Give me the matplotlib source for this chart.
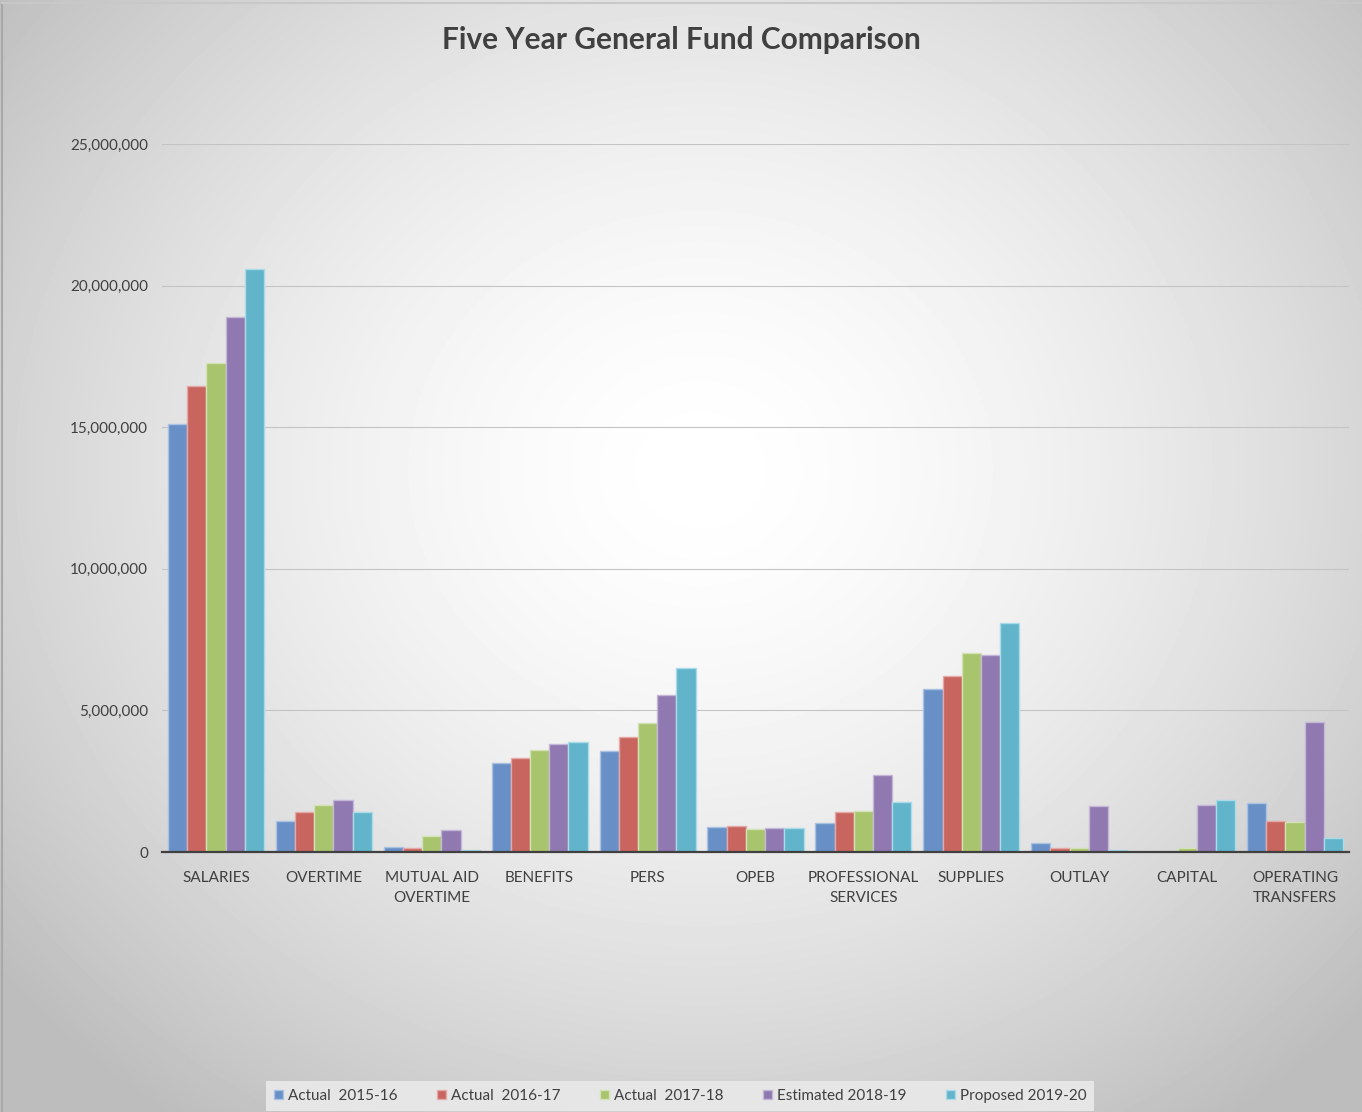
import numpy as np
import matplotlib.pyplot as plt

# categories and the five fiscal years
categories = ['SALARIES', 'OVERTIME', 'MUTUAL AID\nOVERTIME', 'BENEFITS', 'PERS', 'OPEB',
              'PROFESSIONAL\nSERVICES', 'SUPPLIES', 'OUTLAY', 'CAPITAL', 'OPERATING\nTRANSFERS']
series_names = ['Actual  2015-16', 'Actual  2016-17', 'Actual  2017-18',
                'Estimated 2018-19', 'Proposed 2019-20']
actual_2015 = [15110000, 1090000, 160000, 3140000, 3570000, 880000, 1020000, 5760000, 310000, 0, 1730000]
actual_2016 = [16450000, 1410000, 130000, 3320000, 4060000, 920000, 1410000, 6210000, 150000, 0, 1110000]
actual_2017 = [17270000, 1660000, 570000, 3600000, 4550000, 810000, 1450000, 7030000, 130000, 140000, 1070000]
estimated_2018 = [18890000, 1840000, 780000, 3810000, 5540000, 830000, 2720000, 6960000, 1610000, 1660000, 4590000]
proposed_2019 = [20590000, 1410000, 80000, 3880000, 6500000, 860000, 1780000, 8090000, 80000, 1820000, 490000]
yticks = [0, 5000000, 10000000, 15000000, 20000000, 25000000]

colors = ['#6890c6', '#c8655f', '#a8c46c', '#9079b0', '#62b4cb']
edges = ['#a9c1e2', '#e4a9a6', '#d2e2b4', '#c3b6d6', '#a9dbe8']

fig = plt.figure(figsize=(13.62, 11.12), dpi=100)

# radial grey background
bg = fig.add_axes([0, 0, 1, 1])
yy, xx = np.mgrid[0:1112, 0:1362]
r = np.sqrt(((xx - 700) / 900.0) ** 2 + ((yy - 470) / 800.0) ** 2)
shade = 1.0 - 0.26 * np.clip(r, 0, 1) ** 1.6
bg.imshow(shade, cmap='gray', vmin=0, vmax=1, aspect='auto', extent=[0, 1362, 1112, 0])
bg.plot([2, 2], [3, 1112], color='#a8a8a8', lw=1.5)
bg.plot([2, 1362], [3, 3], color='#c8c8c8', lw=1.5)
bg.set_xlim(0, 1362)
bg.set_ylim(1112, 0)
bg.axis('off')

ax = fig.add_axes([162 / 1362, 1 - 852 / 1112, 1187 / 1362, 708 / 1112])
ax.patch.set_alpha(0)

x = np.arange(len(categories))
width = 0.178
data = [actual_2015, actual_2016, actual_2017, estimated_2018, proposed_2019]
for i, vals in enumerate(data):
    ax.bar(x + (i - 2) * width, vals, width, color=colors[i], edgecolor=edges[i],
           linewidth=1, label=series_names[i], zorder=3)

ax.set_xlim(-0.5, len(categories) - 0.5)
ax.set_ylim(0, 25000000)
ax.set_yticks(yticks)
ax.set_yticklabels(['{:,}'.format(v) for v in yticks])
ax.set_xticks(x)
ax.set_xticklabels(categories, linespacing=1.5)
ax.tick_params(axis='both', length=0, labelsize=11, colors='#404040')
ax.tick_params(axis='x', pad=14)
ax.tick_params(axis='y', pad=10)
ax.grid(axis='y', color='#c4c4c4', lw=0.8, zorder=0)
for side in ['top', 'right', 'left']:
    ax.spines[side].set_visible(False)
ax.spines['bottom'].set_color('#404040')
ax.spines['bottom'].set_linewidth(1.6)
ax.spines['bottom'].set_zorder(4)
for lab in ax.get_xticklabels() + ax.get_yticklabels():
    lab.set_family('Lato')

fig.text(0.5, 1 - 40 / 1112, 'Five Year General Fund Comparison', ha='center', va='center',
         fontsize=21.5, fontweight='bold', color='#404040', family='Lato')

leg = fig.legend(loc='center', bbox_to_anchor=(680 / 1362, 1 - 1096 / 1112), ncol=5,
                 frameon=True, fancybox=False, handlelength=0.6, handleheight=0.6,
                 handletextpad=0.3, columnspacing=2.6, borderpad=0.5,
                 prop={'family': 'Lato', 'size': 11})
leg.get_frame().set_facecolor('#e6e6e6')
leg.get_frame().set_edgecolor('none')
leg.get_frame().set_alpha(1)
for t in leg.get_texts():
    t.set_color('#404040')

fig.savefig('out.png', dpi=100)
